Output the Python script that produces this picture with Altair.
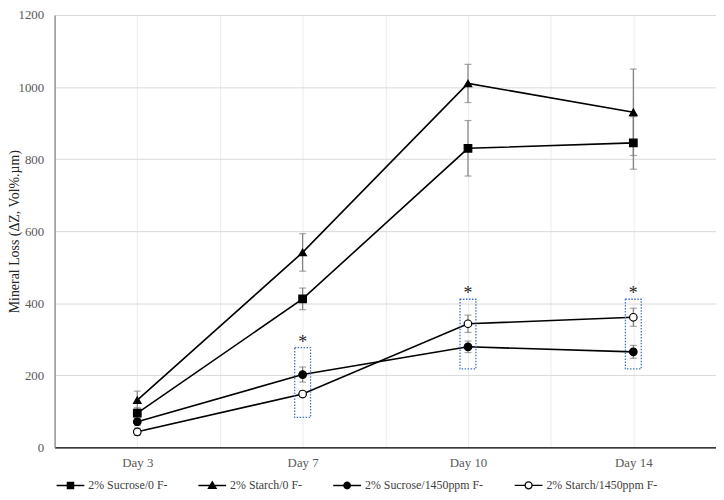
import math
import altair as alt
import pandas as pd

days = ["Day 3", "Day 7", "Day 10", "Day 14"]
series = ["2% Sucrose/0 F-", "2% Starch/0 F-", "2% Sucrose/1450ppm F-", "2% Starch/1450ppm F-"]

sucrose_0 = [95, 412, 830, 845]
sucrose_0_err = [15, 30, 77, 73]
starch_0 = [131, 541, 1010, 930]
starch_0_err = [25, 52, 53, 120]
sucrose_1450 = [71, 202, 279, 265]
sucrose_1450_err = [10, 21, 16, 18]
starch_1450 = [43, 148, 343, 361]
starch_1450_err = [10, 8, 24, 25]

# significance boxes (day index, low, high)
box_day = [1, 2, 3]
box_low = [83, 218, 218]
box_high = [277, 411, 411]
box_half = 0.048

y_ticks = [0, 200, 400, 600, 800, 1000, 1200]

rows = []
for s, vals, errs in zip(series,
                         [sucrose_0, starch_0, sucrose_1450, starch_1450],
                         [sucrose_0_err, starch_0_err, sucrose_1450_err, starch_1450_err]):
    for i, (v, e) in enumerate(zip(vals, errs)):
        rows.append({"series": s, "day": i, "value": v, "lo": v - e, "hi": v + e})
df = pd.DataFrame(rows)

boxes = pd.DataFrame({
    "day": box_day,
    "x1": [d - box_half for d in box_day],
    "x2": [d + box_half for d in box_day],
    "lo": box_low,
    "hi": box_high,
})

FONT = "Times New Roman, Liberation Serif, serif"
day_list = "[" + ",".join("'" + d + "'" for d in days) + "]"
label_expr = "datum.value % 1 == 0 ? " + day_list + "[datum.value] : ''"


# ---- legend symbol paths (line through a marker), drawn with strokes only ----
def fmt(v):
    return f"{v:.3f}"


def hatch(halfwidth_fn, y0, y1, step=0.07):
    parts = []
    n = int(round((y1 - y0) / step))
    for k in range(n + 1):
        y = y0 + (y1 - y0) * k / n
        w = halfwidth_fn(y)
        if w > 0.01:
            parts.append(f"M{fmt(-w)},{fmt(y)}H{fmt(w)}")
    return "".join(parts)


def circle_outline(r):
    return (f"M{fmt(r)},0A{fmt(r)},{fmt(r)},0,1,1,{fmt(-r)},0"
            f"A{fmt(r)},{fmt(r)},0,1,1,{fmt(r)},0Z")


sq = 0.22
path_square = "M-1,0H1" + hatch(lambda y: sq, -sq, sq) + \
    f"M{fmt(-sq)},{fmt(-sq)}H{fmt(sq)}V{fmt(sq)}H{fmt(-sq)}Z"
tt, tb, tw = -0.26, 0.2, 0.27
path_tri = "M-1,0H1" + hatch(lambda y: tw * (y - tt) / (tb - tt), tt, tb) + \
    f"M0,{fmt(tt)}L{fmt(tw)},{fmt(tb)}H{fmt(-tw)}Z"
cr = 0.23
path_circle = "M-1,0H1" + hatch(lambda y: math.sqrt(max(cr * cr - y * y, 0)), -cr, cr) + circle_outline(cr)
orr = 0.25
path_open = f"M-1,0H{fmt(-orr)}M{fmt(orr)},0H1" + circle_outline(orr)
legend_paths = [path_square, path_tri, path_circle, path_open]

x_scale = alt.Scale(domain=[-0.5, 3.5], nice=False, zero=False)
y_scale = alt.Scale(domain=[0, 1200], nice=False)

x_enc = alt.X("day:Q", scale=x_scale,
              axis=alt.Axis(values=[-0.5, 0, 0.5, 1, 1.5, 2, 2.5, 3, 3.5],
                            labelExpr=label_expr, title=None, ticks=False,
                            grid=True, gridColor="#ebebeb", gridWidth=1,
                            domainColor="black", domainWidth=1.2,
                            labelFont=FONT, labelFontSize=13, labelColor="#595959",
                            labelPadding=9))
y_enc = alt.Y("value:Q", scale=y_scale,
              axis=alt.Axis(values=y_ticks, format="d", title="Mineral Loss (ΔZ, Vol%.µm)",
                            ticks=False, grid=True, gridColor="#d9d9d9", gridWidth=1,
                            domainColor="#868686", domainWidth=1.3,
                            labelFont=FONT, labelFontSize=13, labelColor="#595959",
                            labelPadding=11,
                            titleFont=FONT, titleFontSize=14, titleFontWeight="normal",
                            titleColor="#262626", titleX=-40, titleY=218,
                            titleAngle=270, titleBaseline="middle"))

base = alt.Chart(df)

lines = base.mark_line(color="black", strokeWidth=1.6).encode(
    x=x_enc, y=y_enc, detail="series:N")

err_rule = base.mark_rule(color="#7f7f7f", strokeWidth=1.2).encode(
    x="day:Q", y="lo:Q", y2="hi:Q")
err_lo = base.mark_tick(orient="horizontal", size=7, thickness=1.2, color="#7f7f7f").encode(
    x="day:Q", y="lo:Q")
err_hi = base.mark_tick(orient="horizontal", size=7, thickness=1.2, color="#7f7f7f").encode(
    x="day:Q", y="hi:Q")

points = base.mark_point(filled=True, size=58, stroke="black", strokeWidth=1.2, opacity=1).encode(
    x="day:Q", y="value:Q",
    shape=alt.Shape("series:N", sort=series,
                    scale=alt.Scale(domain=series, range=["square", "triangle-up", "circle", "circle"]),
                    legend=None),
    fill=alt.Fill("series:N", sort=series,
                  scale=alt.Scale(domain=series, range=["black", "black", "black", "white"]),
                  legend=None),
)

legend_layer = base.mark_point(filled=False, color="black", strokeWidth=1.4, opacity=0, size=10).encode(
    x="day:Q", y="value:Q",
    shape=alt.Shape("series:N", sort=series,
                    scale=alt.Scale(domain=series, range=legend_paths),
                    legend=alt.Legend(title=None, orient="none", legendX=1, legendY=459,
                                      direction="horizontal", symbolSize=784,
                                      symbolStrokeWidth=1.4, symbolStrokeColor="black",
                                      symbolOpacity=1,
                                      labelFont=FONT, labelFontSize=12, labelColor="#404040",
                                      labelOffset=3, columnPadding=28, padding=0)),
)

rects = alt.Chart(boxes).mark_rect(fillOpacity=0, fill="white", stroke="#4472c4",
                                   strokeDash=[1.5, 1.5], strokeWidth=1.3).encode(
    x="x1:Q", x2="x2:Q", y="lo:Q", y2="hi:Q")

stars = alt.Chart(boxes).mark_text(text="*", font=FONT, fontSize=18, color="#262626",
                                   baseline="middle", dy=-5).encode(
    x="day:Q", y="hi:Q")

chart = alt.layer(lines, err_rule, err_lo, err_hi, rects, stars, points, legend_layer).resolve_scale(
    shape="independent"
).properties(
    width=667, height=436,
    autosize=alt.AutoSizeParams(type="none"),
    padding={"left": 47, "top": 5, "right": 0, "bottom": 43},
).configure_view(stroke=None)

chart.save("out.html", embed_options={"renderer": "svg", "actions": False})
